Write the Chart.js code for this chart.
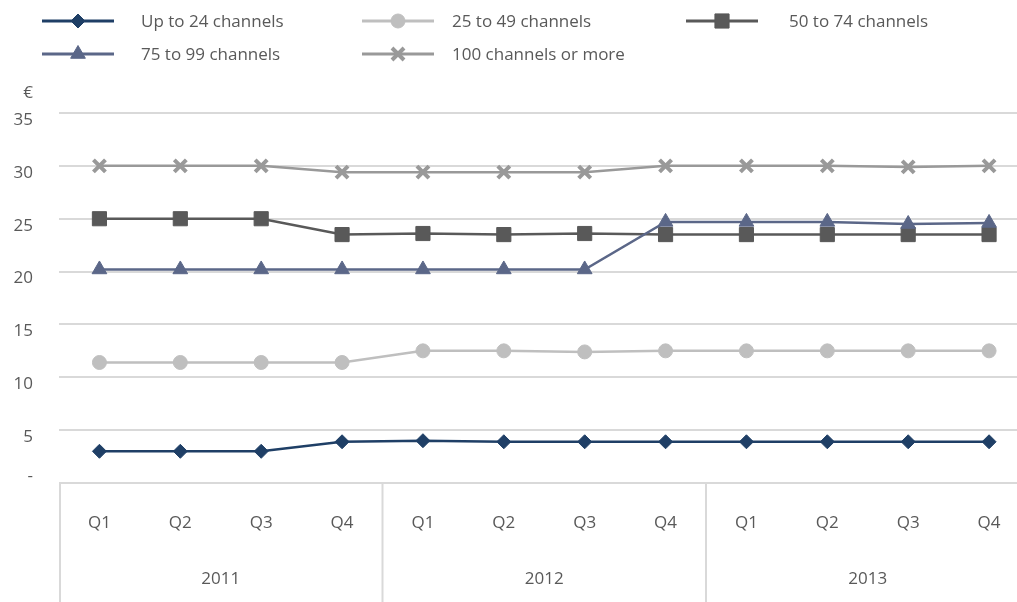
<!DOCTYPE html>
<html>
<head>
<meta charset="utf-8">
<title>Average monthly price by channel bundle</title>
<script src="https://cdn.jsdelivr.net/npm/chart.js@4.4.1/dist/chart.umd.min.js"></script>
<style>
  html, body { margin: 0; padding: 0; background: #ffffff; overflow: hidden; width: 1017px; height: 602px; }
  #wrap { position: absolute; left: 0; top: 0; width: 1042px; height: 602px; }
</style>
</head>
<body>
<div id="wrap"><canvas id="chart" width="1042" height="602"></canvas></div>
<script>
// Quarterly categories, grouped by year
const quarters = ['Q1', 'Q2', 'Q3', 'Q4', 'Q1', 'Q2', 'Q3', 'Q4', 'Q1', 'Q2', 'Q3', 'Q4'];
const years = ['2011', '2012', '2013'];

// Price (EUR) per bundle size
const upTo24 = [3.0, 3.0, 3.0, 3.9, 4.0, 3.9, 3.9, 3.9, 3.9, 3.9, 3.9, 3.9];
const from25to49 = [11.4, 11.4, 11.4, 11.4, 12.5, 12.5, 12.4, 12.5, 12.5, 12.5, 12.5, 12.5];
const from50to74 = [25.0, 25.0, 25.0, 23.5, 23.6, 23.5, 23.6, 23.5, 23.5, 23.5, 23.5, 23.5];
const from75to99 = [20.2, 20.2, 20.2, 20.2, 20.2, 20.2, 20.2, 24.7, 24.7, 24.7, 24.5, 24.6];
const over100 = [30.0, 30.0, 30.0, 29.4, 29.4, 29.4, 29.4, 30.0, 30.0, 30.0, 29.9, 30.0];

const seriesNames = ['Up to 24 channels', '25 to 49 channels', '50 to 74 channels', '75 to 99 channels', '100 channels or more'];

// Value axis
const yMin = 0;
const yMax = 35;
const yStep = 5;
const currencyLabel = '€';

const FONT = 'Open Sans';
const TEXT = '#595959';
const GRID = '#d9d9d9';

function series(label, data, color, style, radius, borderWidth, order) {
  return {
    label, data, order,
    xAxisID: 'x',
    borderColor: color,
    backgroundColor: color,
    borderWidth: 2.5,
    pointStyle: style,
    pointRadius: radius,
    pointHoverRadius: radius,
    pointBackgroundColor: color,
    pointBorderColor: color,
    pointBorderWidth: borderWidth,
    tension: 0,
    fill: false
  };
}

const datasets = [
  series(seriesNames[0], upTo24, '#1f3f66', 'rectRot', 7, 1, 5),
  series(seriesNames[1], from25to49, '#bfbfbf', 'circle', 7, 1, 4),
  series(seriesNames[2], from50to74, '#595959', 'rect', 10, 1, 3),
  series(seriesNames[3], from75to99, '#5b6788', 'triangle', 8.5, 1, 2),
  series(seriesNames[4], over100, '#999999', 'crossRot', 8.5, 4, 1)
];

// Legend: two rows, fixed columns
const legendSlots = [
  { lineX: 42, textX: 141, y: 21 },
  { lineX: 362, textX: 452, y: 21 },
  { lineX: 686, textX: 789, y: 21 },
  { lineX: 42, textX: 141, y: 54 },
  { lineX: 362, textX: 452, y: 54 }
];

const legendPlugin = {
  id: 'rowLegend',
  afterDraw(chart) {
    const ctx = chart.ctx;
    ctx.save();
    chart.data.datasets.forEach((ds, i) => {
      const s = legendSlots[i];
      ctx.strokeStyle = ds.borderColor;
      ctx.lineWidth = 3;
      ctx.beginPath();
      ctx.moveTo(s.lineX, s.y);
      ctx.lineTo(s.lineX + 72, s.y);
      ctx.stroke();
      ctx.fillStyle = ds.pointBackgroundColor;
      ctx.strokeStyle = ds.pointBorderColor;
      ctx.lineWidth = ds.pointBorderWidth;
      Chart.helpers.drawPoint(ctx, {
        pointStyle: ds.pointStyle,
        radius: ds.pointRadius,
        borderWidth: ds.pointBorderWidth,
        rotation: 0
      }, s.lineX + 36, s.y);
      ctx.fillStyle = TEXT;
      ctx.font = '17px "' + FONT + '"';
      ctx.textAlign = 'left';
      ctx.textBaseline = 'middle';
      ctx.fillText(ds.label, s.textX, s.y + 1);
    });
    ctx.restore();
  }
};

// Category box under the plot: outer edge and year separators, plus currency label
const framePlugin = {
  id: 'categoryFrame',
  afterDraw(chart) {
    const { ctx, chartArea: a, scales } = chart;
    const x = scales.x, y = scales.y;
    ctx.save();
    ctx.strokeStyle = GRID;
    ctx.lineWidth = 2;
    const bottom = chart.height;
    const edges = [a.left + 1];
    for (let g = 1; g < years.length; g++) {
      const i = g * 4;
      edges.push((x.getPixelForValue(i - 1) + x.getPixelForValue(i)) / 2);
    }
    edges.forEach(px => {
      ctx.beginPath();
      ctx.moveTo(px, a.bottom);
      ctx.lineTo(px, bottom);
      ctx.stroke();
    });
    ctx.fillStyle = TEXT;
    ctx.font = '17px "' + FONT + '"';
    ctx.textAlign = 'right';
    ctx.textBaseline = 'middle';
    ctx.fillText(currencyLabel, a.left - 26, y.getPixelForValue(yMax) - 20);
    ctx.restore();
  }
};

// Horizontal category axes: fixed height
function fitCategoryAxis(height) {
  return function (s) {
    s.height = height;
    s.paddingLeft = 0;
    s.paddingRight = 0;
  };
}

const tickFont = { family: FONT, size: 17 };

new Chart(document.getElementById('chart'), {
  type: 'line',
  data: { labels: quarters, datasets },
  options: {
    responsive: false,
    animation: false,
    devicePixelRatio: 1,
    layout: { padding: { top: 113, right: 1, left: 0, bottom: 0 } },
    plugins: {
      legend: { display: false },
      tooltip: { enabled: false }
    },
    scales: {
      x: {
        type: 'category',
        labels: quarters,
        position: 'bottom',
        offset: true,
        grid: { display: false },
        border: { display: false },
        ticks: {
          color: TEXT,
          font: tickFont,
          padding: 22,
          maxRotation: 0,
          autoSkip: false
        },
        afterFit: fitCategoryAxis(60)
      },
      yr: {
        type: 'category',
        axis: 'x',
        labels: years,
        position: 'bottom',
        offset: true,
        grid: { display: false },
        border: { display: false },
        ticks: {
          color: TEXT,
          font: tickFont,
          padding: 18,
          maxRotation: 0,
          autoSkip: false
        },
        afterFit: fitCategoryAxis(59)
      },
      y: {
        min: yMin,
        max: yMax,
        grid: { color: GRID, lineWidth: 2, drawTicks: false },
        border: { display: false },
        ticks: {
          stepSize: yStep,
          autoSkip: false,
          color: TEXT,
          font: c => (c.tick && c.tick.value === 0
            ? { family: FONT, size: 17, lineHeight: 28 / 17 }
            : { family: FONT, size: 17 }),
          padding: 26,
          labelOffset: 7,
          callback: v => (v === 0 ? ['-', ''] : String(v))
        },
        afterFit(s) { s.width = 59; }
      }
    }
  },
  plugins: [legendPlugin, framePlugin]
});
</script>
</body>
</html>
